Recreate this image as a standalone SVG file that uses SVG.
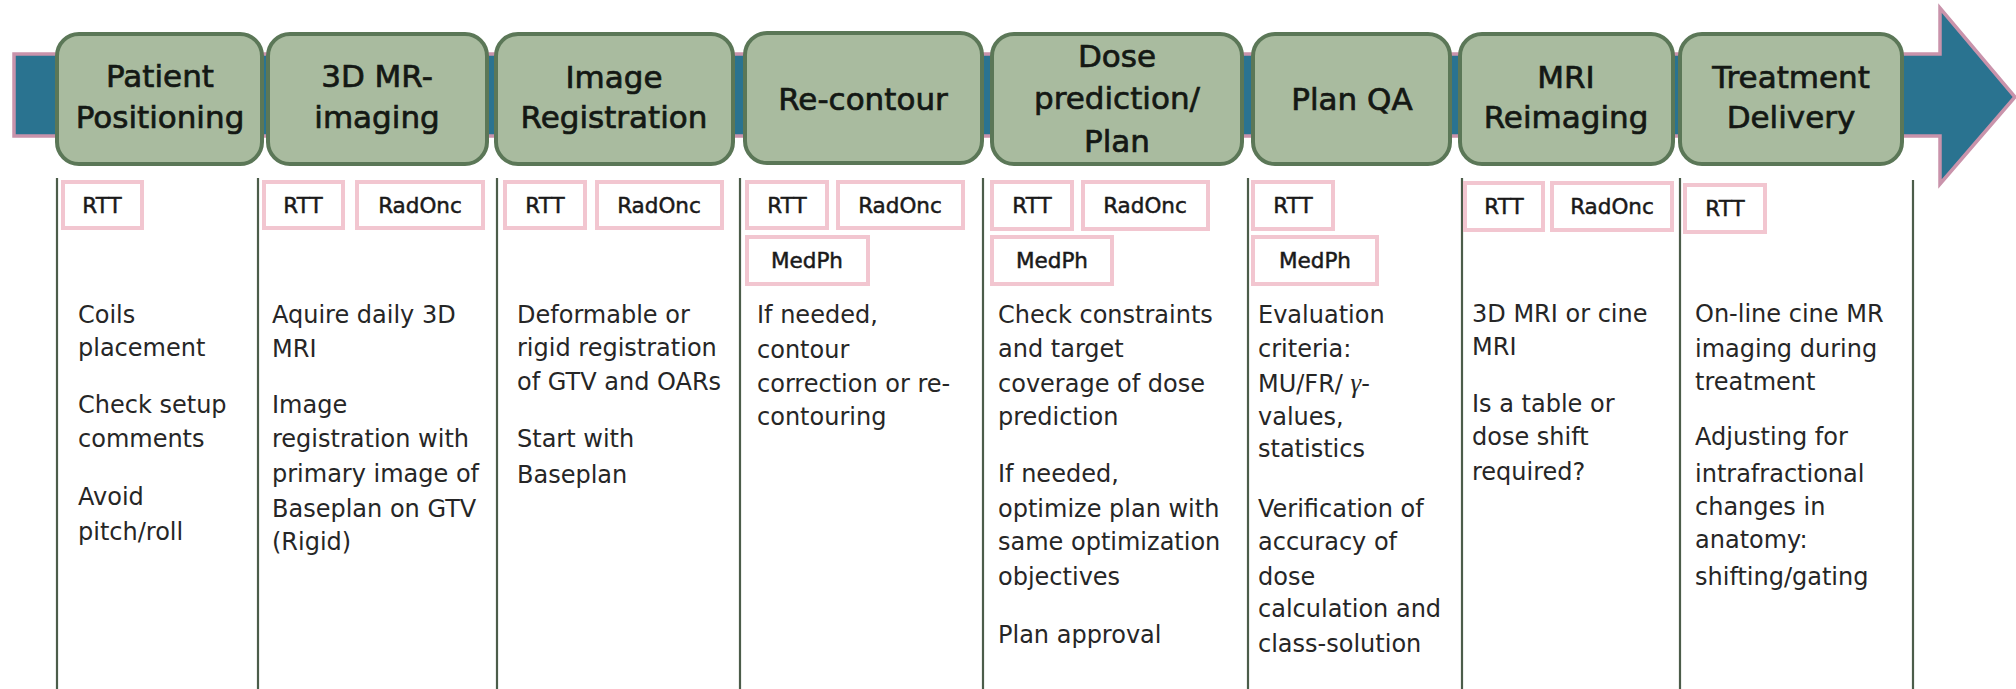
<svg xmlns="http://www.w3.org/2000/svg" width="2016" height="689" viewBox="0 0 2016 689">
  <style>
    .step { fill: #a9bb9f; stroke: #5b7757; stroke-width: 4; }
    .step-label { font-family: "DejaVu Sans", "Liberation Sans", sans-serif; font-size: 31px; fill: #141814; stroke: #141814; stroke-width: 0.7; text-anchor: middle; }
    .role { fill: #ffffff; stroke: #f2c6d0; stroke-width: 4; }
    .role-label { font-family: "DejaVu Sans", "Liberation Sans", sans-serif; font-size: 21.5px; fill: #1a1a1a; stroke: #1a1a1a; stroke-width: 0.5; text-anchor: middle; }
    .divider { stroke: #4c5d4a; stroke-width: 2.2; fill: none; }
    .body { font-family: "DejaVu Sans", "Liberation Sans", sans-serif; font-size: 24px; fill: #262626; }
    .gamma { font-family: "Liberation Serif", "DejaVu Serif", serif; font-style: italic; font-size: 27px; }
  </style>

  <!-- timeline arrow behind the steps -->
  <g id="timeline">
    <polygon points="14,54 1940,54 1940,8 2015,97 1940,184 1940,136 14,136" fill="#2a7390" stroke="#c993ab" stroke-width="3.5" stroke-linejoin="miter"/>
  </g>

  <!-- column separators -->
  <g id="connectors">
    <line class="divider" x1="57" y1="178" x2="57" y2="689"/>
    <line class="divider" x1="258" y1="178" x2="258" y2="689"/>
    <line class="divider" x1="497" y1="178" x2="497" y2="689"/>
    <line class="divider" x1="740" y1="178" x2="740" y2="689"/>
    <line class="divider" x1="983" y1="178" x2="983" y2="689"/>
    <line class="divider" x1="1248" y1="178" x2="1248" y2="689"/>
    <line class="divider" x1="1462" y1="178" x2="1462" y2="689"/>
    <line class="divider" x1="1680" y1="178" x2="1680" y2="689"/>
    <line class="divider" x1="1913" y1="180" x2="1913" y2="689"/>
  </g>

  <!-- 1. Patient positioning -->
  <g id="step-positioning">
    <rect class="step" x="57" y="34" width="205" height="130" rx="22"/>
    <text class="step-label"><tspan x="160" y="87">Patient</tspan><tspan x="160" y="128">Positioning</tspan></text>
    <rect class="role" x="63" y="182" width="79" height="46"/>
    <text class="role-label" x="102" y="213">RTT</text>
    <text class="body"><tspan x="78" y="323">Coils</tspan><tspan x="78" y="356">placement</tspan><tspan x="78" y="413">Check setup</tspan><tspan x="78" y="447">comments</tspan><tspan x="78" y="505">Avoid</tspan><tspan x="78" y="540">pitch/roll</tspan></text>
  </g>

  <!-- 2. 3D MR imaging -->
  <g id="step-imaging">
    <rect class="step" x="268" y="34" width="219" height="130" rx="22"/>
    <text class="step-label"><tspan x="377" y="87">3D MR-</tspan><tspan x="377" y="128">imaging</tspan></text>
    <rect class="role" x="264" y="182" width="79" height="46"/>
    <text class="role-label" x="303" y="213">RTT</text>
    <rect class="role" x="357" y="182" width="126" height="46"/>
    <text class="role-label" x="420" y="213">RadOnc</text>
    <text class="body"><tspan x="272" y="323">Aquire daily 3D</tspan><tspan x="272" y="357">MRI</tspan><tspan x="272" y="413">Image</tspan><tspan x="272" y="447">registration with</tspan><tspan x="272" y="482">primary image of</tspan><tspan x="272" y="517">Baseplan on GTV</tspan><tspan x="272" y="550">(Rigid)</tspan></text>
  </g>

  <!-- 3. Image registration -->
  <g id="step-registration">
    <rect class="step" x="496" y="34" width="237" height="130" rx="22"/>
    <text class="step-label"><tspan x="614" y="88">Image</tspan><tspan x="614" y="128">Registration</tspan></text>
    <rect class="role" x="505" y="182" width="80" height="46"/>
    <text class="role-label" x="545" y="213">RTT</text>
    <rect class="role" x="597" y="182" width="125" height="46"/>
    <text class="role-label" x="659" y="213">RadOnc</text>
    <text class="body"><tspan x="517" y="323">Deformable or</tspan><tspan x="517" y="356">rigid registration</tspan><tspan x="517" y="390">of GTV and OARs</tspan><tspan x="517" y="447">Start with</tspan><tspan x="517" y="483">Baseplan</tspan></text>
  </g>

  <!-- 4. Re-contour -->
  <g id="step-recontour">
    <rect class="step" x="745" y="33" width="237" height="130" rx="22"/>
    <text class="step-label" x="863" y="110">Re-contour</text>
    <rect class="role" x="747" y="182" width="80" height="46"/>
    <text class="role-label" x="787" y="213">RTT</text>
    <rect class="role" x="838" y="182" width="125" height="46"/>
    <text class="role-label" x="900" y="213">RadOnc</text>
    <rect class="role" x="747" y="237" width="121" height="47"/>
    <text class="role-label" x="807" y="268">MedPh</text>
    <text class="body"><tspan x="757" y="323">If needed,</tspan><tspan x="757" y="358">contour</tspan><tspan x="757" y="392">correction or re-</tspan><tspan x="757" y="425">contouring</tspan></text>
  </g>

  <!-- 5. Dose prediction / plan -->
  <g id="step-dose">
    <rect class="step" x="992" y="34" width="250" height="130" rx="22"/>
    <text class="step-label"><tspan x="1117" y="67">Dose</tspan><tspan x="1117" y="109">prediction/</tspan><tspan x="1117" y="152">Plan</tspan></text>
    <rect class="role" x="992" y="182" width="80" height="47"/>
    <text class="role-label" x="1032" y="213">RTT</text>
    <rect class="role" x="1083" y="182" width="125" height="47"/>
    <text class="role-label" x="1145" y="213">RadOnc</text>
    <rect class="role" x="992" y="237" width="120" height="47"/>
    <text class="role-label" x="1052" y="268">MedPh</text>
    <text class="body"><tspan x="998" y="323">Check constraints</tspan><tspan x="998" y="357">and target</tspan><tspan x="998" y="392">coverage of dose</tspan><tspan x="998" y="425">prediction</tspan><tspan x="998" y="482">If needed,</tspan><tspan x="998" y="517">optimize plan with</tspan><tspan x="998" y="550">same optimization</tspan><tspan x="998" y="585">objectives</tspan><tspan x="998" y="643">Plan approval</tspan></text>
  </g>

  <!-- 6. Plan QA -->
  <g id="step-qa">
    <rect class="step" x="1253" y="34" width="197" height="130" rx="22"/>
    <text class="step-label" x="1352" y="110">Plan QA</text>
    <rect class="role" x="1253" y="182" width="80" height="47"/>
    <text class="role-label" x="1293" y="213">RTT</text>
    <rect class="role" x="1253" y="237" width="124" height="47"/>
    <text class="role-label" x="1315" y="268">MedPh</text>
    <text class="body"><tspan x="1258" y="323">Evaluation</tspan><tspan x="1258" y="357">criteria:</tspan><tspan x="1258" y="392">MU/FR/  <tspan class="gamma">γ</tspan>-</tspan><tspan x="1258" y="425">values,</tspan><tspan x="1258" y="457">statistics</tspan><tspan x="1258" y="517">Verification of</tspan><tspan x="1258" y="550">accuracy of</tspan><tspan x="1258" y="585">dose</tspan><tspan x="1258" y="617">calculation and</tspan><tspan x="1258" y="652">class-solution</tspan></text>
  </g>

  <!-- 7. MRI reimaging -->
  <g id="step-reimaging">
    <rect class="step" x="1460" y="34" width="213" height="130" rx="22"/>
    <text class="step-label"><tspan x="1566" y="88">MRI</tspan><tspan x="1566" y="128">Reimaging</tspan></text>
    <rect class="role" x="1465" y="183" width="78" height="47"/>
    <text class="role-label" x="1504" y="214">RTT</text>
    <rect class="role" x="1552" y="183" width="120" height="47"/>
    <text class="role-label" x="1612" y="214">RadOnc</text>
    <text class="body"><tspan x="1472" y="322">3D MRI or cine</tspan><tspan x="1472" y="355">MRI</tspan><tspan x="1472" y="412">Is a table or</tspan><tspan x="1472" y="445">dose shift</tspan><tspan x="1472" y="480">required?</tspan></text>
  </g>

  <!-- 8. Treatment delivery -->
  <g id="step-delivery">
    <rect class="step" x="1680" y="34" width="222" height="130" rx="22"/>
    <text class="step-label"><tspan x="1791" y="88">Treatment</tspan><tspan x="1791" y="128">Delivery</tspan></text>
    <rect class="role" x="1685" y="185" width="80" height="47"/>
    <text class="role-label" x="1725" y="216">RTT</text>
    <text class="body"><tspan x="1695" y="322">On-line cine MR</tspan><tspan x="1695" y="357">imaging during</tspan><tspan x="1695" y="390">treatment</tspan><tspan x="1695" y="445">Adjusting for</tspan><tspan x="1695" y="482">intrafractional</tspan><tspan x="1695" y="515">changes in</tspan><tspan x="1695" y="548">anatomy:</tspan><tspan x="1695" y="585">shifting/gating</tspan></text>
  </g>
</svg>
